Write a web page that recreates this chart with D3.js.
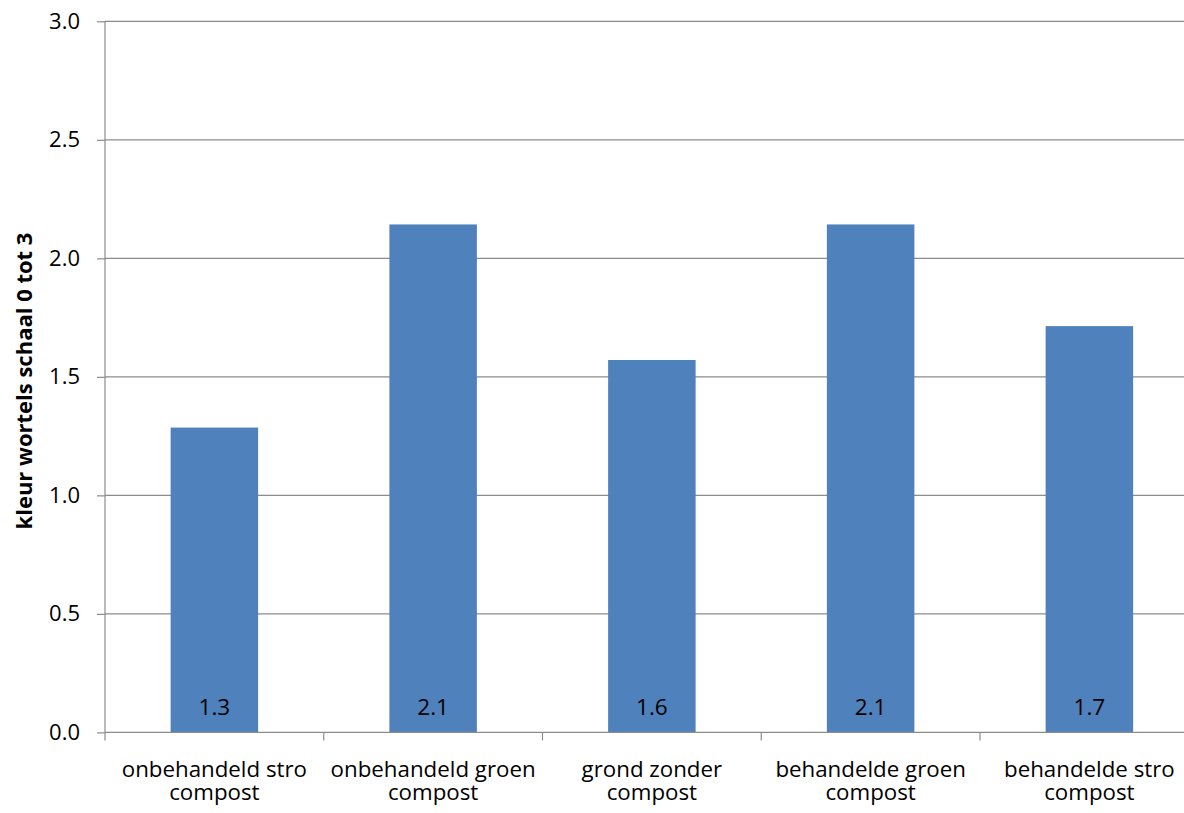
<!DOCTYPE html>
<html><head><meta charset="utf-8">
<script src="https://cdn.jsdelivr.net/npm/d3@7"></script>
<style>body{margin:0;background:#fff}svg{display:block}text{font-family:"Open Sans",sans-serif}</style>
</head><body>
<svg id="c" width="1184" height="813"></svg>
<script>
const categories = [["onbehandeld stro","compost"],["onbehandeld groen","compost"],["grond zonder","compost"],["behandelde groen","compost"],["behandelde stro","compost"]];
const values = [1.286, 2.143, 1.571, 2.143, 1.714];
const yTicks = [0,0.5,1.0,1.5,2.0,2.5,3.0];
const yTitle = "kleur wortels schaal 0 tot 3";

(function(){
const svg = d3.select("#c");
const pL = 105, pR = 1198.75, pT = 21.3, pB = 732.4;
const x = d3.scaleBand().domain(d3.range(categories.length)).range([pL, pR]).paddingInner(0.6).paddingOuter(0.3);
const xb = d3.scaleBand().domain(d3.range(categories.length)).range([pL, pR]);
const y = d3.scaleLinear().domain([0,3]).range([pB, pT]);

svg.append("g").selectAll("line").data(yTicks.slice(1)).join("line")
  .attr("x1", pL).attr("x2", 1184).attr("y1", d=>y(d)).attr("y2", d=>y(d))
  .attr("stroke", "#8c8c8c").attr("stroke-width", 1.2);

svg.append("g").selectAll("rect").data(values).join("rect")
  .attr("x", (d,i)=>x(i)).attr("width", x.bandwidth())
  .attr("y", d=>y(d)).attr("height", d=>pB-y(d)).attr("fill", "#4F81BD");

svg.append("g").selectAll("text").data(values).join("text")
  .attr("x", (d,i)=>x(i)+x.bandwidth()/2).attr("y", pB-17.5)
  .attr("text-anchor","middle").attr("font-size", 22.5).attr("fill","#000")
  .text(d=>d3.format(".1f")(d));

const ya = d3.axisLeft(y).tickValues(yTicks).tickFormat(d3.format(".1f")).tickSize(8).tickPadding(17);
const gy = svg.append("g").attr("transform", `translate(${pL},0)`).call(ya);
gy.select(".domain").attr("stroke","#8c8c8c").attr("stroke-width",1.2).attr("d", `M0,${pT}V${pB}`);
gy.selectAll(".tick line").attr("stroke","#8c8c8c").attr("stroke-width",1.2);
gy.selectAll(".tick text").attr("font-size",22).attr("fill","#000").attr("font-family","Open Sans");

const xa = d3.axisBottom(xb).tickSize(0).tickFormat("");
const gx = svg.append("g").attr("transform", `translate(0,${pB})`).call(xa);
gx.select(".domain").attr("stroke","#8c8c8c").attr("stroke-width",1.2).attr("d", `M${pL},0H1184`);
gx.selectAll(".tick").remove();
svg.append("g").selectAll("line").data(d3.range(categories.length+1)).join("line")
  .attr("x1", i=>pL + i*xb.step()).attr("x2", i=>pL + i*xb.step())
  .attr("y1", pB).attr("y2", pB+8).attr("stroke","#8c8c8c").attr("stroke-width",1.2);

const lbl = svg.append("g").selectAll("text").data(categories).join("text")
  .attr("text-anchor","middle").attr("font-size",22.3).attr("fill","#000")
  .attr("transform",(d,i)=>`translate(${xb(i)+xb.bandwidth()/2},${pB+44.3})`);
lbl.selectAll("tspan").data(d=>d).join("tspan").attr("x",0).attr("dy",(d,j)=>j?23.3:0).text(d=>d);

svg.append("text").attr("transform",`translate(32,381) rotate(-90)`)
  .attr("text-anchor","middle").attr("font-size",22).attr("font-weight","bold").attr("fill","#000")
  .text(yTitle);
})();
</script>
</body></html>
